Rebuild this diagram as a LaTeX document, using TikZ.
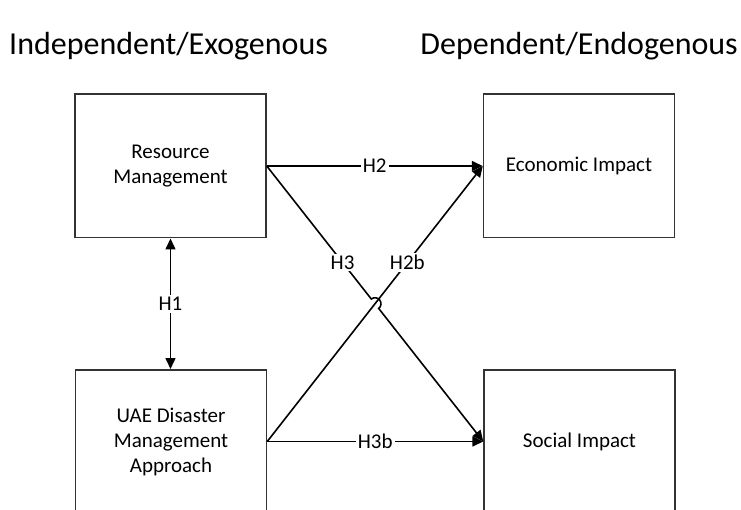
\documentclass[tikz,border=0pt]{standalone}
\usepackage{fontspec}
\setmainfont{Carlito}
\usetikzlibrary{arrows.meta,calc,intersections}
\begin{document}
\begin{tikzpicture}[x=1pt,y=1pt,
 box/.style={draw=black!80, line width=1.5pt, minimum width=191pt, minimum height=143.5pt, inner sep=0pt, align=center, font=\fontsize{21}{25}\selectfont},
 conn/.style={line width=1.6pt, -{Triangle[length=11pt,width=10pt]}},
 lbl/.style={fill=white, inner sep=2pt, font=\fontsize{21}{24}\selectfont},
 ttl/.style={font=\fontsize{32}{38}\selectfont, inner sep=0pt}]
\useasboundingbox (0,0) rectangle (741,509);
\clip (0,0) rectangle (741,509);
\node[ttl, anchor=west] (t1) at (9,463) {Independent/Exogenous};
\node[ttl, anchor=east] (t2) at (738,463) {Dependent/Endogenous};
\node[box] (rm) at (170.5,343) {Resource\\Management};
\node[box] (eco) at (579,343) {Economic Impact};
\node[box] (uae) at (171,67.5) {UAE Disaster\\Management\\Approach};
\node[box] (soc) at (579.5,67.5) {Social Impact};
% H1
\draw[line width=1.6pt, {Triangle[length=11pt,width=10pt]}-{Triangle[length=11pt,width=10pt]}] (rm.south) -- node[lbl] {H1} (rm.south |- uae.north);
% H2
\draw[conn] (rm.east) -- node[lbl] {H2} (eco.west);
% H3b
\draw[conn] (uae.east) -- node[lbl] {H3b} (soc.west);
% H2b
\draw[conn] (uae.east) -- node[lbl, pos=0.65] {H2b} (eco.west);
% H3 with hop
\path[name path=pa] (rm.east) -- (soc.west);
\path[name path=pb] (uae.east) -- (eco.west);
\path[name intersections={of=pa and pb, by=cx}];
\coordinate (ha) at ($(cx)!6pt!(rm.east)$);
\draw[conn] let \p1=($(soc.west)-(rm.east)$), \n1={atan2(\y1,\x1)} in
  (rm.east) -- (ha) arc[start angle=\n1+180, end angle=\n1, radius=6pt] -- (soc.west);
\path (rm.east) -- node[lbl, pos=0.35] {H3} (soc.west);
\end{tikzpicture}
\end{document}
